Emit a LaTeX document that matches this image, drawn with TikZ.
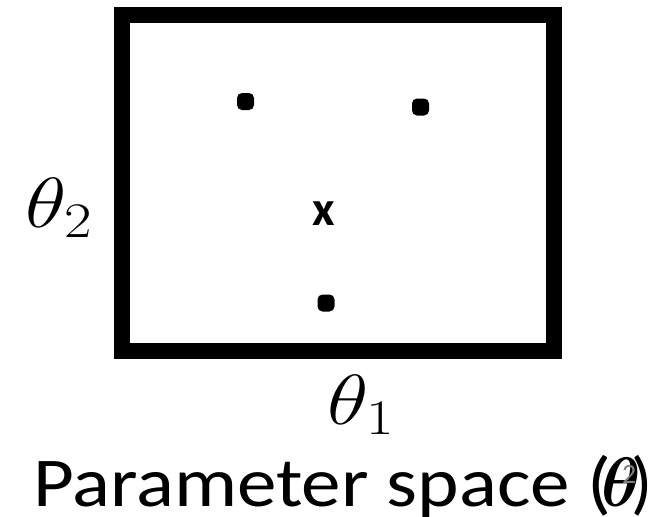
\RequirePackage{fix-cm}
\documentclass[tikz,border=0pt]{standalone}
\usepackage{amsmath}
\usepackage{graphicx}
\usepackage{fontspec}
\setmainfont{Carlito}
\tikzset{
  frame/.style={line width=16pt, line join=miter},
  pointdot/.style={fill=black, rounded corners=5pt},
  axislabel/.style={inner sep=0pt, font=\fontsize{71}{80}\selectfont},
}
\begin{document}
\begin{tikzpicture}[x=1pt,y=-1pt]
\useasboundingbox (0,0) rectangle (662,517);
\draw[frame] (122,15) rectangle (554,351);
\fill[pointdot] (237,93) rectangle (254,110);
\fill[pointdot] (412,98.5) rectangle (429,115.5);
\fill[pointdot] (317.5,294.5) rectangle (334.5,311.5);
\node[inner sep=0pt, anchor=base, font=\fontsize{49}{55}\selectfont\bfseries] (mean) at (324,225) {x};
\node[axislabel, anchor=base west] (t2) at (25,227) {\scalebox{1.2}[1]{$\theta_2$}};
\node[axislabel, anchor=base west] (t1) at (327,424) {\scalebox{1.2}[1]{$\theta_1$}};
\node[inner sep=0pt, anchor=base west, font=\fontsize{70}{80}\selectfont] (cap) at (33,506) {\scalebox{1.13}[1]{Parameter space (}\kern-10pt\scalebox{0.95}[1]{$\boldsymbol{\theta}$}\kern-10pt)};
\node[inner sep=0pt, anchor=base west, text=black!50, font=\fontsize{28}{32}\selectfont] (num) at (622,483) {2};
\end{tikzpicture}
\end{document}
